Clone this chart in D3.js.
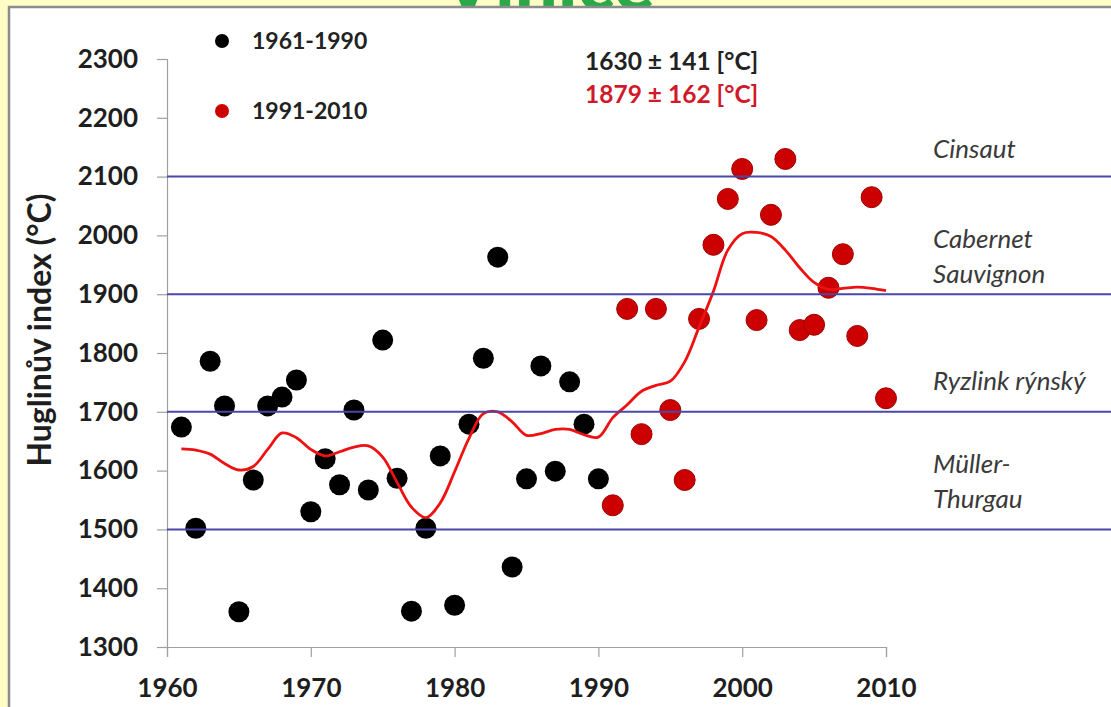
<!DOCTYPE html>
<html>
<head>
<meta charset="utf-8">
<script src="https://cdn.jsdelivr.net/npm/d3@7"></script>
<style>
  html, body { margin: 0; padding: 0; background: #fffdc6; }
  svg { display: block; }
</style>
</head>
<body>
<svg id="chart" width="1111" height="707"></svg>
<script>
// Huglin heliothermal index per year, Czech vineyard region
const yearsEarly = [1961,1962,1963,1964,1965,1966,1967,1968,1969,1970,1971,1972,1973,1974,1975,
                    1976,1977,1978,1979,1980,1981,1982,1983,1984,1985,1986,1987,1988,1989,1990];
const valuesEarly = [1674,1502,1786,1710,1360,1584,1710,1725,1754,1530,1620,1576,1703,1567,1822,
                     1587,1361,1502,1625,1371,1679,1791,1963,1436,1586,1778,1599,1751,1679,1586];

const yearsLate = [1991,1992,1993,1994,1995,1996,1997,1998,1999,2000,
                   2001,2002,2003,2004,2005,2006,2007,2008,2009,2010];
const valuesLate = [1541,1875,1662,1875,1703,1584,1858,1984,2062,2113,
                    1856,2035,2130,1839,1848,1911,1968,1829,2065,1723];

// smoothed trend of the whole series
const trendYears = d3.range(1961, 2011);
const trendValues = [1637,1635,1628,1612,1601,1607,1636,1664,1656,1636,
                     1625,1632,1640,1642,1623,1580,1538,1520,1545,1598,
                     1655,1697,1700,1683,1660,1663,1670,1670,1661,1657,
                     1690,1712,1735,1745,1752,1785,1844,1905,1975,2003,
                     2005,1998,1975,1945,1920,1908,1910,1912,1910,1906];

// grape variety thresholds and labels
const thresholds = [1500, 1700, 1900, 2100];
const varietyLabels = [
  { lines: ["Cinsaut"], v: 2145 },
  { lines: ["Cabernet", "Sauvignon"], v: 1962 },
  { lines: ["Ryzlink rýnský"], v: 1750 },
  { lines: ["Müller-", "Thurgau"], v: 1580 }
];

const yTicks = [1300,1400,1500,1600,1700,1800,1900,2000,2100,2200,2300];
const xTicks = [1960,1970,1980,1990,2000,2010];

const legendItems = [
  { label: "1961-1990", color: "#000000" },
  { label: "1991-2010", color: "#cc0000" }
];
const statLines = [
  { text: "1630 ± 141 [°C]", color: "#222222" },
  { text: "1879 ± 162 [°C]", color: "#d0192a" }
];

const svg = d3.select("#chart");
const W = 1111, H = 707;
const FONT = "Lato, 'Open Sans', sans-serif";

const x = d3.scaleLinear().domain([1960, 2010]).range([167, 886]);
const y = d3.scaleLinear().domain([1300, 2300]).range([647, 59]);

// heading behind the white panel, only its lower edge shows
svg.append("text")
  .attr("x", 548).attr("y", 10)
  .attr("text-anchor", "middle")
  .attr("font-family", FONT).attr("font-weight", 900)
  .attr("font-size", 76).attr("fill", "#2aa84a")
  .text("Vinice");

// white panel
svg.append("rect")
  .attr("x", 9).attr("y", 7)
  .attr("width", W + 20).attr("height", H + 20)
  .attr("fill", "#ffffff")
  .attr("stroke", "#8c8c8c").attr("stroke-width", 2.5);

const plot = svg.append("g");

// y axis
const yAxis = plot.append("g")
  .attr("transform", `translate(${x(1960)},0)`)
  .call(d3.axisLeft(y).tickValues(yTicks).tickSize(10).tickPadding(19).tickFormat(d3.format("d")));
yAxis.select(".domain").attr("stroke", "#a0a0a0").attr("stroke-width", 1.2);
yAxis.selectAll(".tick line").attr("stroke", "#a0a0a0").attr("stroke-width", 1.2);
yAxis.selectAll(".tick text")
  .attr("font-family", FONT).attr("font-weight", 700)
  .attr("font-size", 26).attr("fill", "#1e1e1e");

// x axis
const xAxis = plot.append("g")
  .attr("transform", `translate(0,${y(1300)})`)
  .call(d3.axisBottom(x).tickValues(xTicks).tickSize(10).tickPadding(22).tickFormat(d3.format("d")));
xAxis.select(".domain").attr("stroke", "#a0a0a0").attr("stroke-width", 1.2);
xAxis.selectAll(".tick line").attr("stroke", "#a0a0a0").attr("stroke-width", 1.2);
xAxis.selectAll(".tick text")
  .attr("font-family", FONT).attr("font-weight", 700)
  .attr("font-size", 26).attr("fill", "#1e1e1e");

// y axis title
svg.append("text")
  .attr("transform", "translate(51,330) rotate(-90)")
  .attr("text-anchor", "middle")
  .attr("font-family", FONT).attr("font-weight", 700)
  .attr("font-size", 32).attr("fill", "#1e1e1e")
  .text("Huglinův index (°C)");

// points
const early = yearsEarly.map((yr, i) => ({ yr, v: valuesEarly[i] }));
const late = yearsLate.map((yr, i) => ({ yr, v: valuesLate[i] }));

plot.append("g").selectAll("circle").data(early).join("circle")
  .attr("cx", d => x(d.yr)).attr("cy", d => y(d.v)).attr("r", 10.5)
  .attr("fill", "#000000");

plot.append("g").selectAll("circle").data(late).join("circle")
  .attr("cx", d => x(d.yr)).attr("cy", d => y(d.v)).attr("r", 10.5)
  .attr("fill", "#cc0000").attr("stroke", "#a00000").attr("stroke-width", 1);

// trend curve
const trend = trendYears.map((yr, i) => ({ yr, v: trendValues[i] }));
plot.append("path")
  .datum(trend)
  .attr("fill", "none").attr("stroke", "#ee1111").attr("stroke-width", 2.8)
  .attr("d", d3.line().x(d => x(d.yr)).y(d => y(d.v)).curve(d3.curveCatmullRom.alpha(0.5)));

// variety threshold lines
plot.append("g").selectAll("line").data(thresholds).join("line")
  .attr("x1", x(1960)).attr("x2", W)
  .attr("y1", d => y(d)).attr("y2", d => y(d))
  .attr("stroke", "#4848a8").attr("stroke-width", 2);

// variety labels
const vl = plot.append("g").selectAll("text").data(varietyLabels).join("text")
  .attr("font-family", FONT).attr("font-style", "italic")
  .attr("font-size", 26).attr("fill", "#3a3a3a");
vl.each(function (d) {
  const t = d3.select(this);
  const n = d.lines.length;
  d.lines.forEach((ln, k) => {
    t.append("tspan")
      .attr("x", 933)
      .attr("y", y(d.v) + 8 + (k - (n - 1) / 2) * 35)
      .text(ln);
  });
});

// legend
const lg = svg.append("g");
legendItems.forEach((it, i) => {
  const cy = 41 + i * 70;
  lg.append("circle").attr("cx", 222).attr("cy", cy).attr("r", 7).attr("fill", it.color);
  lg.append("text").attr("x", 252).attr("y", cy + 8)
    .attr("font-family", FONT).attr("font-weight", 700)
    .attr("font-size", 23).attr("fill", "#222222")
    .text(it.label);
});

// mean ± standard deviation of each period
statLines.forEach((s, i) => {
  svg.append("text")
    .attr("x", 585).attr("y", 70 + i * 33)
    .attr("font-family", FONT).attr("font-weight", 700)
    .attr("font-size", 24.5).attr("fill", s.color)
    .text(s.text);
});
</script>
</body>
</html>
